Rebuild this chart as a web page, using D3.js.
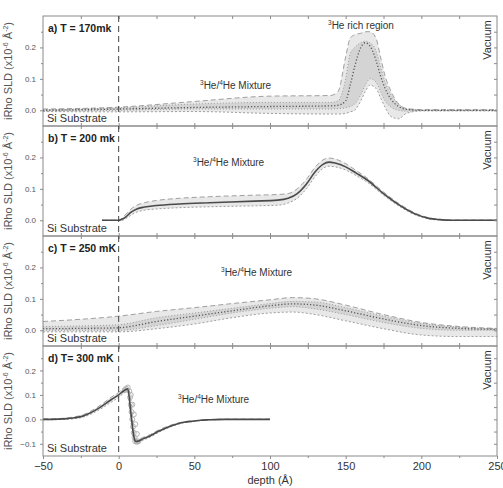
<!DOCTYPE html>
<html><head><meta charset="utf-8">
<script src="https://cdn.jsdelivr.net/npm/d3@7"></script>
<style>body{margin:0;background:#fff}svg{display:block;font-family:"Liberation Sans",Arial,sans-serif}</style>
</head><body><svg id="c" width="503" height="488"></svg>
<script>
const xTicks = [-50, 0, 50, 100, 150, 200, 250];
const yTicksMain = [0, 0.1, 0.2];
const yTicksD = [-0.1, 0, 0.1, 0.2];
const panelLabels = ["a) T = 170mk", "b) T = 200 mk", "c) T = 250 mK", "d) T= 300 mK"];

// Panel a
const aDepth = [-50,0,50,100,140,145,150,153,156,160,163,166,170,173,176,180,185,190,200,250];
const aMean  = [0,0.004,0.009,0.012,0.014,0.016,0.03,0.08,0.14,0.2,0.215,0.205,0.16,0.11,0.07,0.035,0.012,0.003,0,0];
const aHi    = [0.004,0.01,0.028,0.045,0.047,0.06,0.17,0.23,0.24,0.245,0.25,0.25,0.23,0.17,0.11,0.06,0.02,0.006,0.002,0.002];
const aLo    = [-0.004,-0.005,-0.004,-0.01,-0.012,-0.012,-0.01,-0.005,0,0.03,0.06,0.08,0.07,0.04,0.01,-0.02,-0.027,-0.01,-0.002,-0.002];
const aInHi  = [0.002,0.008,0.02,0.025,0.025,0.03,0.1,0.18,0.2,0.215,0.22,0.215,0.19,0.14,0.09,0.05,0.02,0.005,0.001,0.001];
const aInLo  = [-0.002,0,0.004,0.004,0.004,0.005,0.008,0.012,0.02,0.05,0.08,0.1,0.09,0.06,0.03,0.01,0,-0.003,-0.001,-0.001];

// Panel b
const bDepth = [-11,0,2,5,8,12,17,25,40,60,90,105,112,118,124,130,135,139,143,150,157,164,175,185,197,205,212,220,250];
const bMean  = [0,0,0.003,0.012,0.025,0.036,0.042,0.047,0.052,0.056,0.061,0.064,0.07,0.085,0.115,0.155,0.178,0.185,0.182,0.17,0.15,0.129,0.085,0.05,0.018,0.006,0.002,0,0];
const bHi    = [0,0,0.006,0.02,0.035,0.048,0.056,0.063,0.07,0.075,0.08,0.082,0.085,0.1,0.13,0.17,0.192,0.198,0.195,0.18,0.158,0.135,0.09,0.054,0.021,0.008,0.003,0.001,0.001];
const bLo    = [0,0,0,0.006,0.016,0.026,0.032,0.036,0.04,0.043,0.046,0.048,0.055,0.07,0.1,0.14,0.165,0.172,0.17,0.16,0.142,0.122,0.08,0.046,0.015,0.004,0.001,0,0];

// Panel c
const cDepth = [-50,-25,0,25,50,75,100,115,130,150,175,200,225,250];
const cMean  = [0.005,0.006,0.008,0.028,0.045,0.062,0.078,0.084,0.08,0.062,0.036,0.015,0.006,0.003];
const cHi    = [0.028,0.035,0.045,0.06,0.072,0.085,0.097,0.104,0.1,0.08,0.05,0.025,0.012,0.006];
const cLo    = [-0.005,-0.005,-0.005,0.005,0.02,0.04,0.055,0.058,0.05,0.03,0.005,-0.015,-0.02,-0.02];
const cInHi  = [0.012,0.014,0.018,0.04,0.055,0.07,0.085,0.092,0.09,0.072,0.045,0.022,0.01,0.005];
const cInLo  = [0,0,0,0.015,0.035,0.055,0.07,0.075,0.068,0.05,0.025,0.006,0,0];

// Panel d
const dDepth = [-50,-40,-34,-23,-12,-5,0,3,6,8,10,11,13,16,21,26,32,38,43,50,54,60,70,80,100];
const dMean  = [0,0.001,0.003,0.015,0.05,0.08,0.1,0.115,0.125,0.03,-0.07,-0.09,-0.089,-0.08,-0.067,-0.05,-0.033,-0.02,-0.012,-0.007,-0.004,-0.002,0,0,0];
const dHi    = [0.002,0.003,0.006,0.02,0.058,0.09,0.11,0.125,0.135,0.08,-0.04,-0.08,-0.082,-0.074,-0.062,-0.045,-0.029,-0.017,-0.01,-0.005,-0.003,-0.001,0.001,0.001,0.001];
const dLo    = [-0.002,-0.001,0,0.01,0.042,0.07,0.09,0.105,0.115,0.0,-0.085,-0.098,-0.096,-0.086,-0.072,-0.055,-0.037,-0.023,-0.014,-0.009,-0.005,-0.003,-0.001,-0.001,-0.001];
const dCircDepth = [4,5,6,7,7.5,8,8.5,9,9.5,10,10.5,11,12,8,9,10,11,12,13];
const dCircVal   = [0.12,0.125,0.13,0.115,0.09,0.06,0.03,0.0,-0.03,-0.055,-0.075,-0.09,-0.092,0.1,0.06,0.02,-0.02,-0.06,-0.09];

const panels = [
  {depth:aDepth, mean:aMean, hi:aHi, lo:aLo, inHi:aInHi, inLo:aInLo, ydom:[-0.05,0.3], yt:yTicksMain, meanStyle:"dot"},
  {depth:bDepth, mean:bMean, hi:bHi, lo:bLo, inHi:null, inLo:null, ydom:[-0.05,0.3], yt:yTicksMain, meanStyle:"solid"},
  {depth:cDepth, mean:cMean, hi:cHi, lo:cLo, inHi:cInHi, inLo:cInLo, ydom:[-0.05,0.3], yt:yTicksMain, meanStyle:"dot"},
  {depth:dDepth, mean:dMean, hi:dHi, lo:dLo, inHi:null, inLo:null, ydom:[-0.15,0.3], yt:yTicksD, meanStyle:"solid"}
];

const svg = d3.select("#c");
const L = 43, R = 497, T = 16, PH = 110;
const x = d3.scaleLinear().domain([-50, 250]).range([L, R]);
const frame = "#8a8a8a";

panels.forEach((p, i) => {
  const top = T + i * PH, bot = top + PH;
  const y = d3.scaleLinear().domain(p.ydom).range([bot, top]);
  const g = svg.append("g");
  const clipId = "clip" + i;
  svg.append("clipPath").attr("id", clipId).append("rect").attr("x", L).attr("y", top).attr("width", R - L).attr("height", PH);
  const pg = g.append("g").attr("clip-path", `url(#${clipId})`);
  const idx = d3.range(p.depth.length);
  const area = (hi, lo) => d3.area().x(j => x(p.depth[j])).y0(j => y(lo[j])).y1(j => y(hi[j])).curve(d3.curveMonotoneX);
  const line = arr => d3.line().x(j => x(p.depth[j])).y(j => y(arr[j])).curve(d3.curveMonotoneX);

  pg.append("path").attr("d", area(p.hi, p.lo)(idx)).attr("fill", "#e8e8e8");
  if (p.inHi) pg.append("path").attr("d", area(p.inHi, p.inLo)(idx)).attr("fill", "#d4d4d4");
  pg.append("path").attr("d", line(p.hi)(idx)).attr("fill", "none").attr("stroke", "#a0a0a0").attr("stroke-width", 1).attr("stroke-dasharray", "5,3");
  pg.append("path").attr("d", line(p.lo)(idx)).attr("fill", "none").attr("stroke", "#a0a0a0").attr("stroke-width", 1).attr("stroke-dasharray", "2,2");
  if (p.inHi) {
    pg.append("path").attr("d", line(p.inHi)(idx)).attr("fill", "none").attr("stroke", "#8c8c8c").attr("stroke-width", 0.8).attr("stroke-dasharray", "1,2");
    pg.append("path").attr("d", line(p.inLo)(idx)).attr("fill", "none").attr("stroke", "#8c8c8c").attr("stroke-width", 0.8).attr("stroke-dasharray", "1,2");
  }
  if (i === 3) {
    pg.selectAll("circle").data(d3.range(dCircDepth.length)).join("circle")
      .attr("cx", j => x(dCircDepth[j])).attr("cy", j => y(dCircVal[j])).attr("r", 2.5)
      .attr("fill", "none").attr("stroke", "#b5b5b5").attr("stroke-width", 1);
  }
  const m = pg.append("path").attr("d", line(p.mean)(idx)).attr("fill", "none");
  if (p.meanStyle === "solid") m.attr("stroke", "#4a4a4a").attr("stroke-width", 1.6);
  else m.attr("stroke", "#555").attr("stroke-width", 1.3).attr("stroke-dasharray", "1.2,2");

  // frame
  g.append("rect").attr("x", L).attr("y", top).attr("width", R - L).attr("height", PH)
    .attr("fill", "none").attr("stroke", frame).attr("stroke-width", 1);

  // left axis
  const yMinor = d3.range(p.ydom[0], p.ydom[1] + 1e-9, 0.05).filter(v => v > p.ydom[0] + 1e-9 && v < p.ydom[1] - 1e-9);
  const ay = g.append("g").attr("transform", `translate(${L},0)`)
    .call(d3.axisLeft(y).tickValues(p.yt).tickSize(3).tickFormat(d3.format(".1f")));
  ay.select(".domain").remove();
  ay.selectAll("line").attr("stroke", frame);
  ay.selectAll("text").attr("fill", "#555").style("font-size", "8px").attr("dx", "-1");
  g.append("g").attr("transform", `translate(${L},0)`)
    .call(d3.axisLeft(y).tickValues(yMinor.filter(v => !p.yt.some(t => Math.abs(t - v) < 1e-6))).tickSize(2).tickFormat(""))
    .call(s => { s.select(".domain").remove(); s.selectAll("line").attr("stroke", frame); });
  // right ticks
  g.append("g").attr("transform", `translate(${R},0)`)
    .call(d3.axisLeft(y).tickValues(yMinor).tickSize(3).tickFormat(""))
    .call(s => { s.select(".domain").remove(); s.selectAll("line").attr("stroke", frame); });
  // x ticks inside top & bottom
  const xMinor = d3.range(-25, 250, 25);
  g.append("g").attr("transform", `translate(0,${top})`)
    .call(d3.axisBottom(x).tickValues(xMinor).tickSize(3).tickFormat(""))
    .call(s => { s.select(".domain").remove(); s.selectAll("line").attr("stroke", frame); });
  if (i < 3) {
    g.append("g").attr("transform", `translate(0,${bot})`)
      .call(d3.axisTop(x).tickValues(xMinor).tickSize(3).tickFormat(""))
      .call(s => { s.select(".domain").remove(); s.selectAll("line").attr("stroke", frame); });
  } else {
    const ax = g.append("g").attr("transform", `translate(0,${bot})`)
      .call(d3.axisBottom(x).tickValues(xTicks).tickSize(3).tickPadding(3));
    ax.select(".domain").remove();
    ax.selectAll("line").attr("stroke", frame);
    ax.selectAll("text").attr("fill", "#333").style("font-size", "11px");
    g.append("g").attr("transform", `translate(0,${bot})`)
      .call(d3.axisBottom(x).tickValues(xMinor.filter(v => v % 50 !== 0)).tickSize(2).tickFormat(""))
      .call(s => { s.select(".domain").remove(); s.selectAll("line").attr("stroke", frame); });
  }

  // labels
  g.append("text").attr("x", L + 5).attr("y", top + 16).text(panelLabels[i])
    .style("font-size", "10.5px").style("font-weight", "bold").attr("fill", "#222");
  g.append("text").attr("x", L + 4).attr("y", bot - 4).text("Si Substrate")
    .style("font-size", "11px").attr("fill", "#333");
  g.append("text").attr("transform", `translate(${R - 6},${top + 24}) rotate(-90)`)
    .attr("text-anchor", "middle").text("Vacuum").style("font-size", "11px").attr("fill", "#333");
  g.append("text").attr("transform", `translate(12,${top + PH / 2}) rotate(-90)`)
    .attr("text-anchor", "middle").style("font-size", "11px").attr("fill", "#555")
    .call(t => {
      t.append("tspan").text("iRho SLD (x10");
      t.append("tspan").text("-6").attr("dy", "-4").style("font-size", "7px");
      t.append("tspan").text(" Å").attr("dy", "4");
      t.append("tspan").text("-2").attr("dy", "-4").style("font-size", "7px");
      t.append("tspan").text(")").attr("dy", "4");
    });
});

// mixture annotations
const mixPos = [[200, 89], [193, 166], [221, 276], [178, 403]];
mixPos.forEach(([mx, my]) => {
  const t = svg.append("text").attr("x", mx).attr("y", my).style("font-size", "10px").attr("fill", "#333");
  t.append("tspan").text("3").attr("dy", "-4").style("font-size", "6.5px");
  t.append("tspan").text("He/").attr("dy", "4");
  t.append("tspan").text("4").attr("dy", "-4").style("font-size", "6.5px");
  t.append("tspan").text("He Mixture").attr("dy", "4");
});
{
  const t = svg.append("text").attr("x", 328).attr("y", 29).style("font-size", "10px").attr("fill", "#333");
  t.append("tspan").text("3").attr("dy", "-4").style("font-size", "6.5px");
  t.append("tspan").text("He rich region").attr("dy", "4");
}

// dashed x=0 line
svg.append("line").attr("x1", x(0)).attr("x2", x(0)).attr("y1", T).attr("y2", T + 4 * PH)
  .attr("stroke", "#444").attr("stroke-width", 1).attr("stroke-dasharray", "6,4");

svg.append("text").attr("x", 270).attr("y", 484).attr("text-anchor", "middle")
  .style("font-size", "11px").attr("fill", "#333").text("depth (Å)");
</script></body></html>
